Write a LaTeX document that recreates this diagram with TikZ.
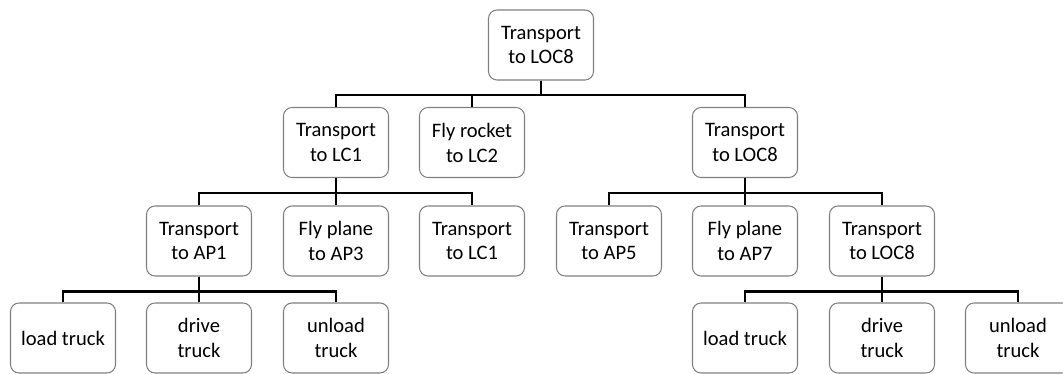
\documentclass[tikz,border=0pt]{standalone}
\usepackage{fontspec}
\setmainfont{Carlito}
\tikzset{>=stealth}
\tikzset{
  task/.style={draw=black!50, line width=0.6pt, rounded corners=0.17cm, fill=white,
    minimum width=2.1cm, minimum height=1.4cm, align=center, inner sep=1pt,
    font=\fontsize{11.7}{14.2}\selectfont},
  link/.style={line width=1.6pt}
}

\begin{document}
\begin{tikzpicture}
    \useasboundingbox (0,0) rectangle (21.26,-7.48);
    \clip (0,0) rectangle (21.26,-7.48);
    % top
    \node[task] (root) at (10.82,-0.9) {Transport\\to LOC8};
    % second row
    \node[task] (lc1) at (6.72,-2.85) {Transport\\to LC1};
    \node[task] (lc2) at (9.44,-2.85) {Fly rocket\\to LC2};
    \node[task] (loc8) at (14.9,-2.85) {Transport\\to LOC8};
    % third row
    \node[task] (ap1) at (3.98,-4.82) {Transport\\to AP1};
    \node[task] (ap3) at (6.72,-4.82) {Fly plane\\to AP3};
    \node[task] (lcone) at (9.44,-4.82) {Transport\\to LC1};
    \node[task] (ap5) at (12.18,-4.82) {Transport\\to AP5};
    \node[task] (ap7) at (14.9,-4.82) {Fly plane\\to AP7};
    \node[task] (loceight) at (17.64,-4.82) {Transport\\to LOC8};
    % bottom row
    \node[task] (loadA) at (1.26,-6.76) {load truck};
    \node[task] (driveA) at (3.98,-6.76) {drive\\truck};
    \node[task] (unloadA) at (6.72,-6.76) {unload\\truck};
    \node[task] (loadB) at (14.9,-6.76) {load truck};
    \node[task] (driveB) at (17.64,-6.76) {drive\\truck};
    \node[task] (unloadB) at (20.36,-6.76) {unload\\truck};
    % links
    \foreach \c in {lc1, lc2, loc8}
      \draw[link] (root.south) -- ++(0,-0.29) -| (\c.north);
    \foreach \c in {ap1, ap3, lcone}
      \draw[link] (lc1.south) -- ++(0,-0.3) -| (\c.north);
    \foreach \c in {ap5, ap7, loceight}
      \draw[link] (loc8.south) -- ++(0,-0.3) -| (\c.north);
    \foreach \c in {loadA, driveA, unloadA}
      \draw[link] (ap1.south) -- ++(0,-0.3) -| (\c.north);
    \foreach \c in {loadB, driveB, unloadB}
      \draw[link] (loceight.south) -- ++(0,-0.3) -| (\c.north);
\end{tikzpicture}
\end{document}
